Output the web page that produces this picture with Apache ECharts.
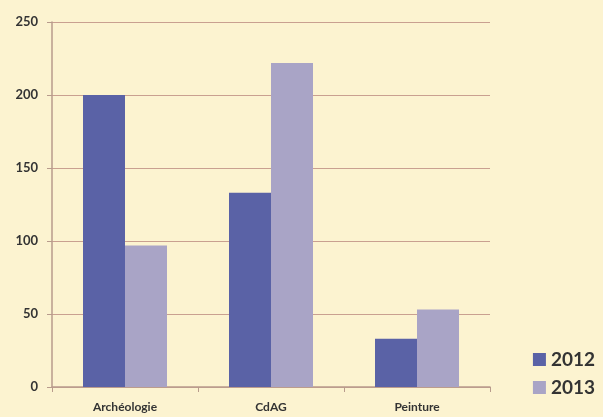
<!DOCTYPE html>
<html><head><meta charset="utf-8">
<script src="https://cdn.jsdelivr.net/npm/echarts@6/dist/echarts.min.js"></script>
<style>html,body{margin:0;padding:0;background:#fcf3d0;}#c{width:603px;height:417px;}</style>
</head><body><div id="c"></div>
<script>
const categories = ['Archéologie', 'CdAG', 'Peinture'];
const values2012 = [200, 133, 33];
const values2013 = [97, 222, 53];
const yTicks = { min: 0, max: 250, interval: 50 };

const chart = echarts.init(document.getElementById('c'));
chart.setOption({
  backgroundColor: '#fcf3d0',
  animation: false,
  grid: { left: 52, right: 113, top: 22, bottom: 30 },
  legend: {
    orient: 'vertical', right: 3, top: 345, itemWidth: 13, itemHeight: 13, itemGap: 9,
    textStyle: { fontFamily: 'Lato', fontSize: 19, fontWeight: 'bold', color: '#333' },
    icon: 'rect',
    data: ['2012', '2013']
  },
  xAxis: {
    type: 'category', data: categories,
    axisLine: { lineStyle: { color: '#b89b8c', width: 1.5 } },
    axisTick: { show: true, length: 5, lineStyle: { color: '#b89b8c' } },
    axisLabel: { fontFamily: 'Lato', fontSize: 12, fontWeight: 'bold', color: '#333', margin: 14 }
  },
  yAxis: {
    type: 'value', min: yTicks.min, max: yTicks.max, interval: yTicks.interval,
    axisLine: { show: true, lineStyle: { color: '#b89b8c', width: 1.5 } },
    axisTick: { show: true, length: 5, lineStyle: { color: '#b89b8c' } },
    splitLine: { lineStyle: { color: '#c9a090', width: 1 } },
    axisLabel: { fontFamily: 'Lato', fontSize: 13, fontWeight: 'bold', color: '#333', margin: 14 }
  },
  series: [
    { name: '2012', type: 'bar', data: values2012, barWidth: 42, barGap: '0%', itemStyle: { color: '#5a62a6' } },
    { name: '2013', type: 'bar', data: values2013, barWidth: 42, barGap: '0%', itemStyle: { color: '#a9a4c6' } }
  ]
});
</script></body></html>
